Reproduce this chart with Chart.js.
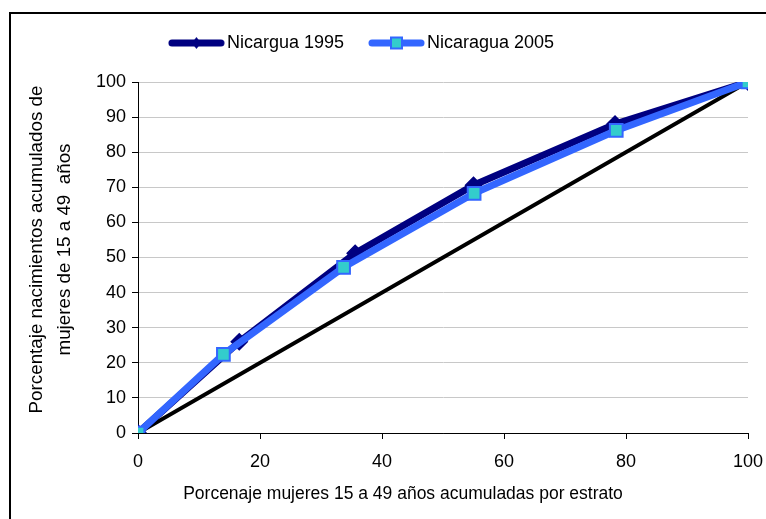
<!DOCTYPE html>
<html>
<head>
<meta charset="utf-8">
<script src="https://cdn.jsdelivr.net/npm/chart.js@4/dist/chart.umd.min.js"></script>
<style>
  html, body { margin: 0; padding: 0; background: #fff; overflow: hidden; }
  #wrap { position: relative; width: 766px; height: 519px; }
  #frame {
    position: absolute; left: 9px; top: 12px; width: 800px; height: 600px;
    border-left: 2px solid #000; border-top: 2px solid #000;
    pointer-events: none;
  }
  canvas { position: absolute; left: 0; top: 0; }
</style>
</head>
<body>
<div id="wrap">
  <canvas id="myChart" width="766" height="519"></canvas>
  <div id="frame"></div>
</div>
<script>
// datos
const xNic1995 = [0, 16.6, 35.6, 55.0, 78.2, 100];
const yNic1995 = [0, 26.0, 51.2, 70.6, 88.0, 100];
const xNic2005 = [0, 14.0, 33.7, 55.1, 78.4, 100];
const yNic2005 = [0, 22.4, 47.2, 68.3, 86.2, 100];
const xIgualdad = [0, 100];
const yIgualdad = [0, 100];

const serieNombres = ["Nicargua 1995", "Nicaragua 2005"];
const xTitulo = "Porcenaje mujeres 15 a 49 años acumuladas por estrato";
const yTitulo = ["Porcentaje nacimientos acumulados de", "mujeres de 15 a 49  años"];

const NAVY = "#000080";
const BLUE = "#3366ff";
const TURQ = "#33cccc";
const FONT = "'Liberation Sans', Arial, sans-serif";

function toPoints(xs, ys) {
  const pts = [];
  for (let i = 0; i < xs.length; i++) {
    pts.push({ x: xs[i], y: ys[i] });
  }
  return pts;
}

// icono de leyenda: linea + marcador
function legendIcon(lineColor, marker) {
  const c = document.createElement("canvas");
  c.width = 57;
  c.height = 18;
  const g = c.getContext("2d");
  g.strokeStyle = lineColor;
  g.lineWidth = 7;
  g.lineCap = "round";
  g.beginPath();
  g.moveTo(4, 9);
  g.lineTo(53, 9);
  g.stroke();
  if (marker === "diamond") {
    g.fillStyle = NAVY;
    g.beginPath();
    g.moveTo(28.5, 3);
    g.lineTo(33, 9);
    g.lineTo(28.5, 15);
    g.lineTo(24, 9);
    g.closePath();
    g.fill();
  } else {
    g.fillStyle = TURQ;
    g.strokeStyle = BLUE;
    g.lineWidth = 2;
    g.fillRect(23, 3.5, 11, 11);
    g.strokeRect(23, 3.5, 11, 11);
  }
  return c;
}

const icon1995 = legendIcon(NAVY, "diamond");
const icon2005 = legendIcon(BLUE, "square");

const chartData = {
  datasets: [
    {
      label: serieNombres[0],
      data: toPoints(xNic1995, yNic1995),
      borderColor: NAVY,
      backgroundColor: NAVY,
      borderWidth: 7,
      pointStyle: "rectRot",
      pointRadius: 8,
      pointBorderWidth: 1.5,
      pointBackgroundColor: NAVY,
      pointBorderColor: NAVY,
      showLine: true,
      order: 1,
    },
    {
      label: serieNombres[1],
      data: toPoints(xNic2005, yNic2005),
      borderColor: BLUE,
      backgroundColor: TURQ,
      borderWidth: 7,
      pointStyle: "rect",
      pointRadius: 9,
      pointBorderWidth: 2,
      pointBackgroundColor: TURQ,
      pointBorderColor: BLUE,
      showLine: true,
      order: 0,
    },
    {
      label: "igualdad",
      data: toPoints(xIgualdad, yIgualdad),
      borderColor: "#000",
      borderWidth: 4,
      pointRadius: 0,
      showLine: true,
      order: 2,
    },
  ],
};

// ajustes: leyenda mas arriba / izquierda, titulos de ejes como en el original
const ajustes = {
  id: "ajustes",
  afterLayout(chart) {
    const lg = chart.legend;
    lg.left -= 9.5;
    lg.right -= 9.5;
    lg.top -= 20;
    lg.bottom -= 20;
  },
  afterDraw(chart) {
    const { ctx, chartArea } = chart;
    ctx.save();
    ctx.fillStyle = "#000";
    ctx.textAlign = "center";
    ctx.textBaseline = "middle";
    // titulo eje x
    ctx.font = "17.5px " + FONT;
    const cx = (chartArea.left + chartArea.right) / 2 - 40;
    ctx.fillText(xTitulo, cx, chartArea.bottom + 61);
    // titulo eje y (dos lineas, girado)
    ctx.font = "18.8px " + FONT;
    const cy = (chartArea.top + chartArea.bottom) / 2 - 8;
    ctx.translate(37, cy);
    ctx.rotate(-Math.PI / 2);
    ctx.fillText(yTitulo[0], 0, 0);
    ctx.fillText(yTitulo[1], 0, 28.3);
    ctx.restore();
  },
};

const ctx = document.getElementById("myChart").getContext("2d");
const myChart = new Chart(ctx, {
  type: "scatter",
  data: chartData,
  plugins: [ajustes],
  options: {
    responsive: false,
    animation: false,
    layout: { padding: { left: 0, right: 18, top: 15, bottom: 0 } },
    elements: { line: { tension: 0, borderJoinStyle: "round", borderCapStyle: "round" } },
    plugins: {
      tooltip: { enabled: false },
      legend: {
        position: "top",
        labels: {
          usePointStyle: true,
          pointStyleWidth: 43,
          padding: 31,
          color: "#000",
          font: { family: FONT, size: 18 },
          filter: (item) => item.datasetIndex < 2,
          sort: (a, b) => a.datasetIndex - b.datasetIndex,
          generateLabels: (chart) => {
            const base = Chart.defaults.plugins.legend.labels.generateLabels(chart);
            base.forEach((it) => {
              it.pointStyle = it.datasetIndex === 0 ? icon1995 : icon2005;
            });
            return base;
          },
        },
      },
    },
    scales: {
      x: {
        type: "linear",
        min: 0,
        max: 100,
        afterFit: (scale) => {
          scale.height = 86;
          scale.paddingLeft = 0;
          scale.paddingRight = 0;
        },
        ticks: { stepSize: 20, padding: 12, color: "#000", font: { family: FONT, size: 18 } },
        grid: { drawOnChartArea: false, tickLength: 6, tickColor: "#000" },
        border: { color: "#000", width: 1 },
        title: { display: false, text: xTitulo },
      },
      y: {
        type: "linear",
        min: 0,
        max: 100,
        afterFit: (scale) => {
          scale.width = 138;
          scale.paddingTop = 82;
          scale.paddingBottom = 0;
        },
        ticks: { stepSize: 10, padding: 6, color: "#000", font: { family: FONT, size: 18 } },
        grid: {
          color: (c) => (c.tick && c.tick.value === 0 ? "#000" : "#c8c8c8"),
          tickLength: 6,
          tickColor: "#000",
        },
        border: { color: "#000", width: 1 },
        title: { display: false, text: yTitulo },
      },
    },
  },
});
</script>
</body>
</html>
